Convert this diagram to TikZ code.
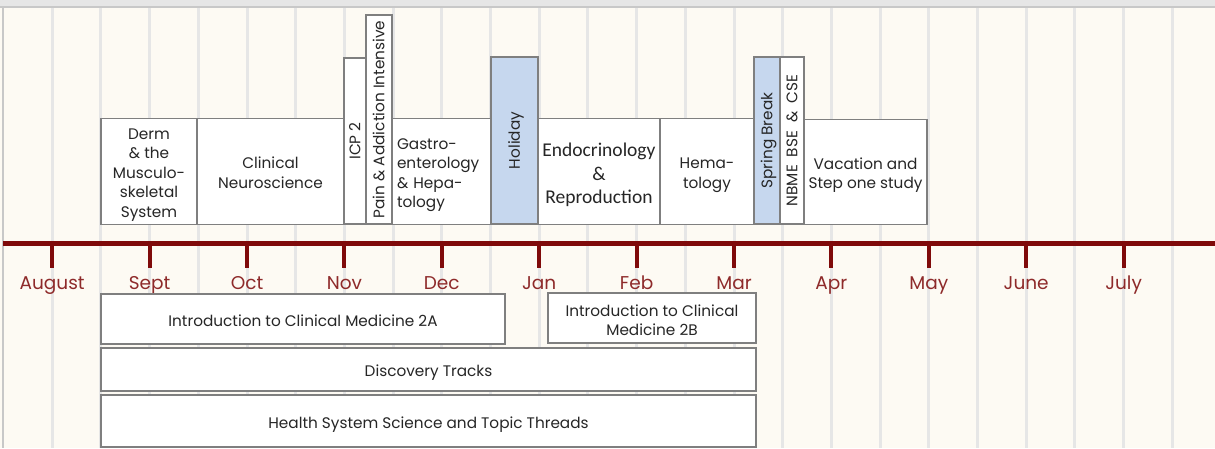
\documentclass[tikz,border=0pt]{standalone}
\usepackage{fontspec}
\newfontfamily\calib{Carlito}
\newfontfamily\gothic{Poppins}
\newcommand\tl[2][-3pt]{\raisebox{#1}[\height][\depth]{\begin{tabular}{@{}c@{}}#2\end{tabular}}}
\newcommand\tlL[2][-3pt]{\raisebox{#1}[\height][\depth]{\begin{tabular}{@{}l@{}}#2\end{tabular}}}
\definecolor{bgc}{HTML}{FDFAF3}
\definecolor{gridc}{HTML}{E6E6E6}
\definecolor{framec}{HTML}{C8C8C8}
\definecolor{axisc}{HTML}{7F0A0A}
\definecolor{monthc}{HTML}{8E2A2A}
\definecolor{boxline}{HTML}{7F7F7F}
\definecolor{holc}{HTML}{C6D7EE}
\definecolor{txt}{HTML}{262626}
\tikzset{
  box/.style={draw=boxline, line width=1.5pt, fill=white, inner sep=0pt,
    text=txt, font={\fontsize{15.3}{19.5}\gothic}},
  vbox/.style={box, rotate=90},
  brk/.style={fill=holc},
  month/.style={text=monthc, font={\fontsize{18.5}{21}\gothic}, inner sep=0pt, anchor=base},
  gridline/.style={draw=gridc, line width=3pt},
  axisline/.style={draw=axisc, line width=5pt},
  tickline/.style={draw=axisc, line width=4pt},
}
\begin{document}
\begin{tikzpicture}[x=1pt,y=-1pt]
\useasboundingbox (0,0) rectangle (1215,448);
\fill[bgc] (0,0) rectangle (1215,448);
% grid
\foreach \k in {1,...,24} {
  \draw[gridline] ({3.5+48.7*\k},8) -- ({3.5+48.7*\k},448);
}
% frame
\fill[gridc] (0,0) rectangle (1215,6);
\draw[framec, line width=2pt] (0,7) -- (1215,7);
\draw[framec, line width=1.5pt] (3,7) -- (3,448);
% axis
\coordinate (axL) at (3,243);
\coordinate (axR) at (1215,243);
\draw[axisline] (axL) -- (axR);
\foreach \k/\m [count=\i] in {1/August,3/Sept,5/Oct,7/Nov,9/Dec,11/Jan,13/Feb,15/Mar,17/Apr,19/May,21/June,23/July} {
  \coordinate (t\i) at ({3.5+48.7*\k},243);
  \coordinate (tb\i) at ({3.5+48.7*\k},268);
  \draw[tickline] (t\i) -- (tb\i);
  \node[month] (m\i) at ({3.5+48.7*\k},289.5) {\m};
}
% top boxes
\node[box, minimum width=96, minimum height=106] (derm) at (149,171.5)
  {\tl{Derm\\ \& the\\ Musculo-\\ skeletal\\ System}};
\node[box, minimum width=147, minimum height=106] (neuro) at (270.5,171.5)
  {\tl{Clinical\\ Neuroscience}};
\node[vbox, minimum width=166, minimum height=22] (icp) at (355,141) {\tl[-1.5pt]{ICP 2}};
\node[vbox, minimum width=209, minimum height=26] (pain) at (379,119.5) {\tl[-1.5pt]{Pain \& Addiction Intensive}};
\node[box, minimum width=99, minimum height=106, text width=89] (gastro) at (441.5,171.5)
  {\tlL{Gastro-\\ enterology\\ \& Hepa-\\ tology}};
\node[vbox, brk, minimum width=167, minimum height=47] (holiday) at (514.5,140.5) {\tl[-1.5pt]{Holiday}};
\node[box, minimum width=122, minimum height=106, font={\fontsize{19.5}{23.5}\calib}] (endo) at (599,171.5)
  {\tl[-3.9pt]{Endocrinology\\ \&\\ Reproduction}};
\node[box, minimum width=94, minimum height=106] (hema) at (707,171.5)
  {\tl{Hema-\\ tology}};
\node[vbox, brk, minimum width=167, minimum height=26] (spring) at (767,140.5) {\tl[-1.5pt]{Spring Break}};
\node[vbox, minimum width=167, minimum height=24] (nbme) at (792,140.5)
  {\tl[-1.5pt]{NBME\hspace{4pt} BSE\hspace{4pt} \&\hspace{4pt} CSE}};
\node[box, minimum width=123, minimum height=105] (vac) at (865.5,172)
  {\tl{Vacation and\\ Step one study}};
% bottom boxes
\node[box, minimum width=404, minimum height=50] (icma) at (303,319)
  {\tl[-3.7pt]{Introduction to Clinical Medicine 2A}};
\node[box, minimum width=208, minimum height=50] (icmb) at (652,318)
  {\tl[-4.2pt]{Introduction to Clinical\\ Medicine 2B}};
\node[box, minimum width=655, minimum height=43] (disc) at (428.5,369.5)
  {\tl[-3.5pt]{Discovery Tracks}};
\node[box, minimum width=655, minimum height=52] (hss) at (428.5,421)
  {\tl[-3.5pt]{Health System Science and Topic Threads}};
\end{tikzpicture}
\end{document}
